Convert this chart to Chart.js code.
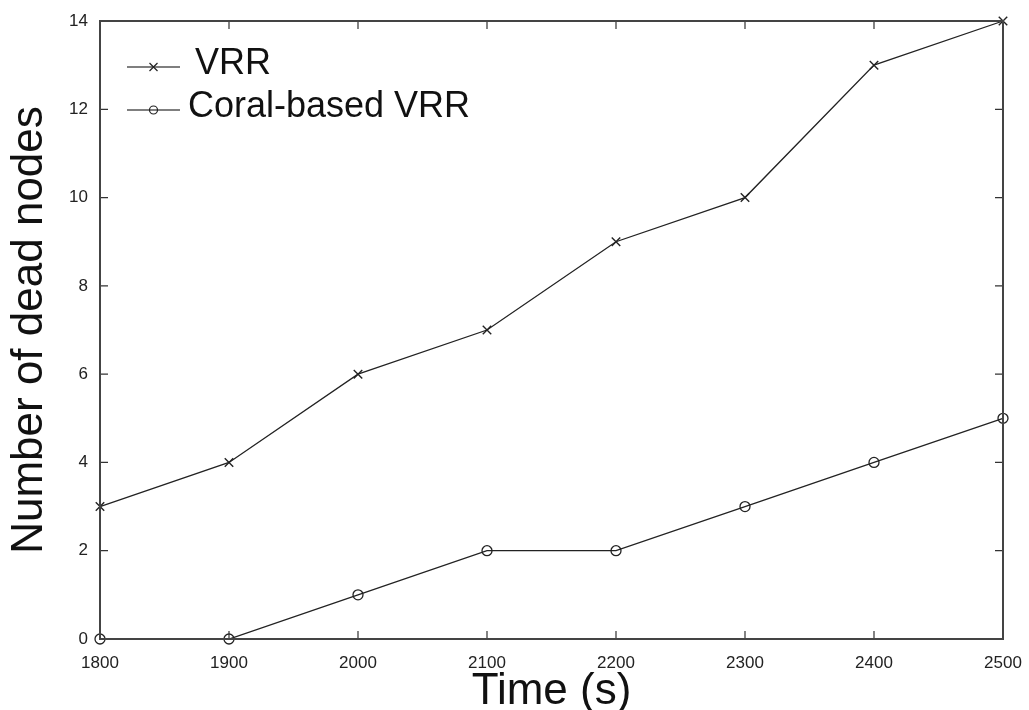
<!DOCTYPE html>
<html>
<head>
<meta charset="utf-8">
<script src="https://cdn.jsdelivr.net/npm/chart.js@4/dist/chart.umd.min.js"></script>
<style>
html,body{margin:0;padding:0;background:#fff;}
#wrap{width:1029px;height:710px;position:relative;}
</style>
</head>
<body>
<div id="wrap"><canvas id="c" width="1029" height="710"></canvas></div>
<script>
const times = [1800, 1900, 2000, 2100, 2200, 2300, 2400, 2500];
const vrr = [3, 4, 6, 7, 9, 10, 13, 14];
const coralVrr = [0, 0, 1, 2, 2, 3, 4, 5];
const seriesNames = ['VRR', 'Coral-based VRR'];
const xTitle = 'Time (s)';
const yTitle = 'Number of dead nodes';

const FONT = "'Liberation Sans', Arial, Helvetica, sans-serif";
const INK = '#222';

const inwardTicks = {
  id: 'inwardTicks',
  afterDatasetsDraw(chart) {
    const {ctx, chartArea: a, scales} = chart;
    const len = 8;
    ctx.save();
    ctx.strokeStyle = '#333';
    ctx.lineWidth = 1.2;
    scales.x.ticks.forEach(t => {
      const px = scales.x.getPixelForValue(t.value);
      ctx.beginPath();
      ctx.moveTo(px, a.bottom); ctx.lineTo(px, a.bottom - len);
      ctx.moveTo(px, a.top); ctx.lineTo(px, a.top + len);
      ctx.stroke();
    });
    scales.y.ticks.forEach(t => {
      const py = scales.y.getPixelForValue(t.value);
      ctx.beginPath();
      ctx.moveTo(a.left, py); ctx.lineTo(a.left + len, py);
      ctx.moveTo(a.right, py); ctx.lineTo(a.right - len, py);
      ctx.stroke();
    });
    ctx.lineWidth = 2;
    ctx.strokeStyle = '#444';
    ctx.strokeRect(a.left, a.top, a.right - a.left, a.bottom - a.top);
    ctx.restore();
  }
};

const innerLegend = {
  id: 'innerLegend',
  afterDraw(chart) {
    const {ctx, chartArea: a} = chart;
    ctx.save();
    ctx.font = '36px ' + FONT;
    ctx.textBaseline = 'alphabetic';
    ctx.fillStyle = '#111';
    const rows = [67, 110];
    chart.data.datasets.forEach((ds, i) => {
      const y = rows[i];
      const x0 = a.left + 27, x1 = a.left + 80, xm = (x0 + x1) / 2;
      ctx.strokeStyle = '#555';
      ctx.lineWidth = 1.5;
      ctx.beginPath(); ctx.moveTo(x0, y); ctx.lineTo(x1, y); ctx.stroke();
      ctx.strokeStyle = '#222';
      ctx.lineWidth = 1.2;
      if (ds.pointStyle === 'crossRot') {
        const r = 4;
        ctx.beginPath();
        ctx.moveTo(xm - r, y - r); ctx.lineTo(xm + r, y + r);
        ctx.moveTo(xm - r, y + r); ctx.lineTo(xm + r, y - r);
        ctx.stroke();
      } else {
        ctx.beginPath(); ctx.arc(xm, y, 4, 0, Math.PI * 2); ctx.stroke();
      }
      ctx.fillText(ds.label, x1 + (i === 0 ? 15 : 8), y + 7);
    });
    ctx.restore();
  }
};

new Chart(document.getElementById('c'), {
  type: 'line',
  data: {
    datasets: [
      {
        label: seriesNames[0],
        data: times.map((t, i) => ({x: t, y: vrr[i]})),
        borderColor: INK, borderWidth: 1.3,
        pointStyle: 'crossRot', pointRadius: 6, pointBorderWidth: 1.4,
        pointBorderColor: INK, pointBackgroundColor: 'rgba(0,0,0,0)',
        tension: 0, clip: false
      },
      {
        label: seriesNames[1],
        data: times.map((t, i) => ({x: t, y: coralVrr[i]})),
        borderColor: INK, borderWidth: 1.3,
        pointStyle: 'circle', pointRadius: 5, pointBorderWidth: 1.3,
        pointBorderColor: INK, pointBackgroundColor: 'rgba(255,255,255,0)',
        tension: 0, clip: false
      }
    ]
  },
  options: {
    responsive: false,
    animation: false,
    devicePixelRatio: 1,
    layout: {padding: {top: 21, right: 26, left: 0, bottom: 0}},
    plugins: {legend: {display: false}, tooltip: {enabled: false}},
    scales: {
      x: {
        type: 'linear', min: 1800, max: 2500,
        afterFit(s) { s.height = 71; s.paddingLeft = 0; s.paddingRight = 0; },
        grid: {display: false, drawTicks: false},
        border: {display: false},
        ticks: {stepSize: 100, padding: 14, color: '#222', font: {family: FONT, size: 17},
          callback: v => String(v), maxRotation: 0, autoSkip: false},
        title: {display: true, text: xTitle, color: '#111', font: {family: FONT, size: 44, lineHeight: 1}, padding: {top: 0, bottom: -4}}
      },
      y: {
        type: 'linear', min: 0, max: 14,
        afterFit(s) { s.width = 100; s.paddingTop = 0; s.paddingBottom = 0; },
        grid: {display: false, drawTicks: false},
        border: {display: false},
        ticks: {stepSize: 2, padding: 12, color: '#222', font: {family: FONT, size: 17}},
        title: {display: true, text: yTitle, color: '#111', font: {family: FONT, size: 44, lineHeight: 1}, padding: {top: 8, bottom: 0}}
      }
    }
  },
  plugins: [inwardTicks, innerLegend]
});
</script>
</body>
</html>
